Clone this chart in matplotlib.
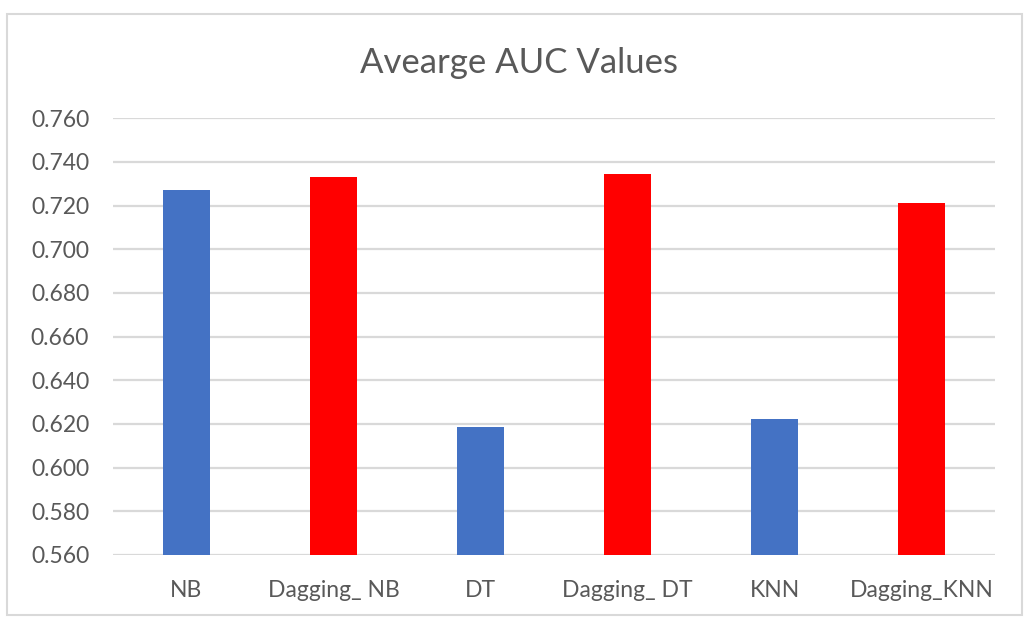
import matplotlib.pyplot as plt
from matplotlib.patches import Rectangle

models = ["NB", "Dagging_ NB", "DT", "Dagging_ DT", "KNN", "Dagging_KNN"]
auc = [0.727, 0.733, 0.6185, 0.7345, 0.6223, 0.721]
colors = ["#4472C4", "#FF0000", "#4472C4", "#FF0000", "#4472C4", "#FF0000"]
yticks = [0.56, 0.58, 0.60, 0.62, 0.64, 0.66, 0.68, 0.70, 0.72, 0.74, 0.76]

plt.rcParams["font.family"] = ["Lato", "DejaVu Sans"]
text_color = "#595959"

fig = plt.figure(figsize=(10.25, 6.17), dpi=100)
ax = fig.add_axes([0.110, 0.1005, 0.861, 0.708])

x = range(len(models))
ax.bar(x, auc, width=0.32, color=colors, zorder=3)

ax.set_xlim(-0.5, len(models) - 0.5)
ax.set_ylim(0.56, 0.76)
ax.set_yticks(yticks)
ax.set_yticklabels([f"{v:.3f}" for v in yticks])
ax.set_xticks(list(x))
ax.set_xticklabels(models)
ax.tick_params(axis="both", length=0, labelsize=16.5, colors=text_color)
ax.tick_params(axis="y", pad=17)
ax.tick_params(axis="x", pad=18)

ax.grid(axis="y", color="#d9d9d9", linewidth=1.6, zorder=0)
for s in ax.spines.values():
    s.set_visible(False)

fig.text(0.506, 0.898, "Avearge AUC Values", ha="center", va="center",
         fontsize=25, color=text_color)

# chart frame
fig.patches.append(Rectangle((0.007, 0.004), 0.99, 0.973, transform=fig.transFigure,
                             fill=False, edgecolor="#d9d9d9", linewidth=1.5))

fig.savefig("out.png", dpi=100)
